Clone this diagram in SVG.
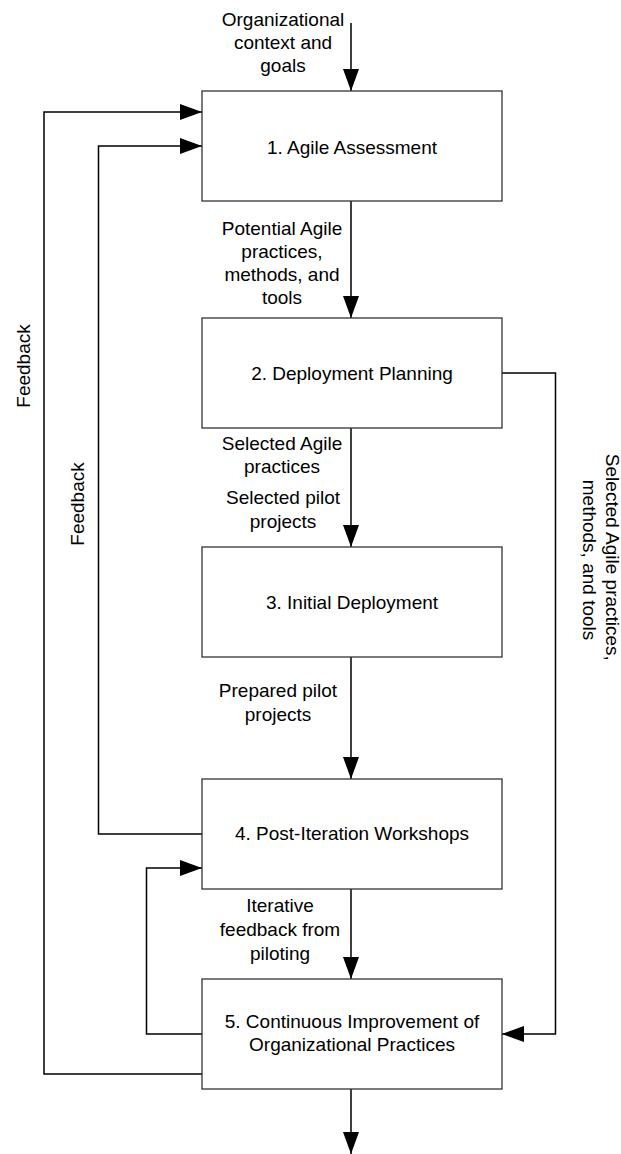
<svg xmlns="http://www.w3.org/2000/svg" width="621" height="1154" viewBox="0 0 621 1154">
  <style>
    text { font-family: "Liberation Sans", Arial, sans-serif; font-size: 19px; fill: #000; text-anchor: middle; }
    .box { fill: #fff; stroke: #333; stroke-width: 1.3; }
    .wire { fill: none; stroke: #000; stroke-width: 1.5; }
  </style>
  <defs>
    <marker id="arrow" markerUnits="userSpaceOnUse" markerWidth="22" markerHeight="16" refX="22" refY="8" orient="auto">
      <path d="M0,0 L22,8 L0,16 Z" fill="#000"/>
    </marker>
  </defs>
  <rect width="621" height="1154" fill="#fff"/>

  <!-- connectors -->
  <g id="connectors">
    <path class="wire" d="M351,23 V91" marker-end="url(#arrow)"/>
    <path class="wire" d="M351,201 V318" marker-end="url(#arrow)"/>
    <path class="wire" d="M351,428 V547" marker-end="url(#arrow)"/>
    <path class="wire" d="M351,657 V779" marker-end="url(#arrow)"/>
    <path class="wire" d="M351,889 V979" marker-end="url(#arrow)"/>
    <path class="wire" d="M351,1089 V1154" marker-end="url(#arrow)"/>
    <!-- outer feedback: step 5 back to step 1 -->
    <path class="wire" d="M202,1074 H44 V112 H202" marker-end="url(#arrow)"/>
    <!-- inner feedback: step 4 back to step 1 -->
    <path class="wire" d="M202,834 H98.5 V146 H202" marker-end="url(#arrow)"/>
    <!-- loop: step 5 back to step 4 -->
    <path class="wire" d="M202,1034 H146.5 V868 H202" marker-end="url(#arrow)"/>
    <!-- step 2 straight to step 5 -->
    <path class="wire" d="M502,373 H555.5 V1034 H502" marker-end="url(#arrow)"/>

    <text x="283" y="26">Organizational</text>
    <text x="283" y="49">context and</text>
    <text x="283" y="72">goals</text>

    <text x="282" y="235">Potential Agile</text>
    <text x="282" y="258">practices,</text>
    <text x="282" y="281">methods, and</text>
    <text x="282" y="304">tools</text>

    <text x="282" y="450">Selected Agile</text>
    <text x="282" y="473">practices</text>
    <text x="283" y="504">Selected pilot</text>
    <text x="283" y="528">projects</text>

    <text x="278" y="697">Prepared pilot</text>
    <text x="278" y="721">projects</text>

    <text x="280" y="912">Iterative</text>
    <text x="280" y="936">feedback from</text>
    <text x="280" y="960">piloting</text>

    <text transform="translate(29.5,366) rotate(-90)">Feedback</text>
    <text transform="translate(83.5,504) rotate(-90)">Feedback</text>
    <text transform="translate(605.5,560) rotate(90)">
      <tspan x="0" y="0">Selected Agile practices,</tspan>
      <tspan x="0" y="22.5">methods, and tools</tspan>
    </text>
  </g>

  <g id="step1">
    <rect class="box" x="202" y="91" width="300" height="110"/>
    <text x="352" y="154">1. Agile Assessment</text>
  </g>
  <g id="step2">
    <rect class="box" x="202" y="318" width="300" height="110"/>
    <text x="352" y="380">2. Deployment Planning</text>
  </g>
  <g id="step3">
    <rect class="box" x="202" y="547" width="300" height="110"/>
    <text x="352" y="609">3. Initial Deployment</text>
  </g>
  <g id="step4">
    <rect class="box" x="202" y="779" width="300" height="110"/>
    <text x="352" y="840">4. Post-Iteration Workshops</text>
  </g>
  <g id="step5">
    <rect class="box" x="202" y="979" width="300" height="110"/>
    <text x="352" y="1028">5. Continuous Improvement of</text>
    <text x="352" y="1051">Organizational Practices</text>
  </g>
</svg>
